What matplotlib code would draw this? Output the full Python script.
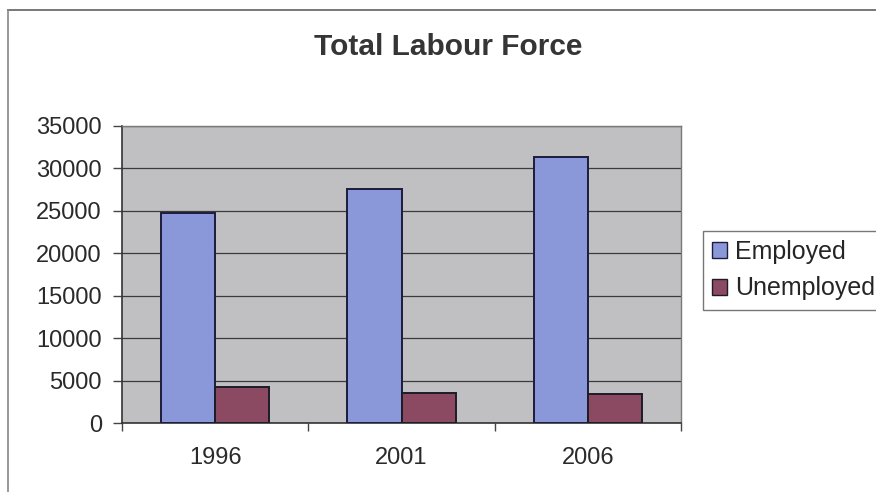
import matplotlib
matplotlib.use("Agg")
import matplotlib.pyplot as plt
from matplotlib.patches import Patch
from matplotlib.lines import Line2D
import numpy as np

years = ["1996", "2001", "2006"]
employed = [24800, 27600, 31350]
unemployed = [4250, 3580, 3450]
yticks = [0, 5000, 10000, 15000, 20000, 25000, 30000, 35000]

plt.rcParams['font.family'] = ['Liberation Sans', 'DejaVu Sans']

W, H = 876, 492
fig = plt.figure(figsize=(W/100, H/100), dpi=100)
fig.patch.set_facecolor('white')
ax = fig.add_axes([122/W, 69/H, 559/W, 297/H])
ax.set_facecolor('#c0c0c3')

emp_color = '#8a98da'
unemp_color = '#8c4a62'

x = np.arange(len(years))
w = 0.29
ax.bar(x - w/2, employed, w, color=emp_color, edgecolor='#1c1c3c', linewidth=1.4, zorder=3, label='Employed')
ax.bar(x + w/2, unemployed, w, color=unemp_color, edgecolor='#1c1c28', linewidth=1.4, zorder=3, label='Unemployed')

ax.set_xlim(-0.5, 2.5)
ax.set_ylim(0, 35000)
ax.set_yticks(yticks)
ax.set_yticklabels([str(v) for v in yticks], fontsize=17, color='#2a2a2a')
ax.yaxis.grid(True, color='#3a3a3a', linewidth=0.9, zorder=1)
ax.set_axisbelow(True)

ax.set_xticks(x)
ax.set_xticklabels(years, fontsize=17, color='#2a2a2a')
ax.tick_params(axis='x', length=0, pad=17)
ax.set_xticks([-0.5, 0.5, 1.5, 2.5], minor=True)
ax.tick_params(axis='x', which='minor', length=6, width=1.0, color='#444444', direction='out')
ax.tick_params(axis='y', length=6.5, width=1.0, color='#444444', direction='out', pad=8)

for s in ['top', 'right']:
    ax.spines[s].set_color('#7a7a7a')
    ax.spines[s].set_linewidth(1.0)
for s in ['left', 'bottom']:
    ax.spines[s].set_color('#333333')
    ax.spines[s].set_linewidth(1.2)

fig.text(448/W, 1 - 47/H, "Total Labour Force", ha='center', va='center',
         fontsize=21.5, fontweight='bold', color='#353535')

handles = [Patch(facecolor=emp_color, edgecolor='#1c1c3c', label='Employed'),
           Patch(facecolor=unemp_color, edgecolor='#1c1c28', label='Unemployed')]
leg = fig.legend(handles=handles, loc='upper left', bbox_to_anchor=(703/W, 1 - 231/H),
                 fontsize=18, frameon=True, fancybox=False, edgecolor='#555555',
                 handlelength=0.6, handleheight=0.6, handletextpad=0.32,
                 borderpad=0.36, labelspacing=0.5, borderaxespad=0)
leg.get_frame().set_linewidth(1.0)
for t in leg.get_texts():
    t.set_color('#252525')

# outer chart frame (top and left edges visible)
fig.add_artist(Line2D([8/W, 1.0], [1 - 10/H, 1 - 10/H], transform=fig.transFigure,
                      color='#777777', linewidth=1.4))
fig.add_artist(Line2D([8/W, 8/W], [1 - 10/H, 0.0], transform=fig.transFigure,
                      color='#888888', linewidth=1.2))

fig.savefig("out.png", dpi=100)
